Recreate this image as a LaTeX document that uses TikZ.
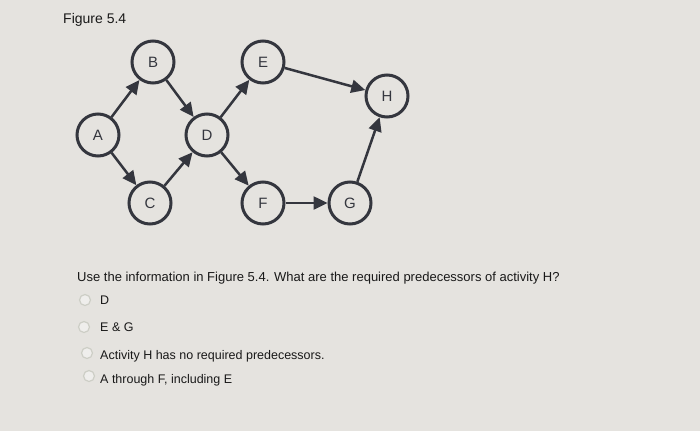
\documentclass[tikz,border=0pt]{standalone}
\usepackage{fontspec}
\setmainfont{Liberation Sans}
\usetikzlibrary{positioning,arrows.meta}
\definecolor{paper}{RGB}{229,227,223}
\definecolor{ink}{RGB}{52,54,62}
\definecolor{radio}{RGB}{205,206,198}
\tikzstyle{activity} = [draw=ink, line width=3pt, fill=paper, circle,
    minimum size=42pt, inner sep=0pt, text=ink, font=\fontsize{15}{15}\selectfont]
\tikzstyle{link} = [draw=ink, line width=2.5pt, -{Triangle[length=14pt,width=13pt]}]
\tikzstyle{choice} = [draw=radio, fill=paper!60!white, line width=1.2pt, circle, minimum size=11pt, inner sep=0pt]
\tikzstyle{answer} = [anchor=west, inner sep=0pt, text=black!90, font=\fontsize{12.5}{12.5}\selectfont]

\begin{document}
\begin{tikzpicture}[x=1pt, y=-1pt, on grid]
	  \fill [paper] (0,0) rectangle (700,431);
	  \useasboundingbox (0,0) rectangle (700,431);
	  \node [anchor=west, inner sep=0pt, text=black!90, font=\fontsize{14}{14}\selectfont] (title) at (63,20) {Figure 5.4};
	  % network
	  \node [activity] (A) at (98,135) {A};
	  \node [activity, above right=73pt and 55pt of A] (B) {B};
	  \node [activity, below right=68pt and 52pt of A] (C) {C};
	  \node [activity, right=109pt of A] (D) {D};
	  \node [activity, above right=73pt and 56pt of D] (E) {E};
	  \node [activity, below right=68pt and 56pt of D] (F) {F};
	  \node [activity, right=87pt of F] (G) {G};
	  \node [activity, above right=107pt and 37pt of G] (H) {H};
	  \draw [link] (A) -- (B);
	  \draw [link] (A) -- (C);
	  \draw [link] (B) -- (D);
	  \draw [link] (C) -- (D);
	  \draw [link] (D) -- (E);
	  \draw [link] (D) -- (F);
	  \draw [link] (E) -- (H);
	  \draw [link] (F) -- (G);
	  \draw [link] (G) -- (H);
	  % question
	  \node [answer, font=\fontsize{13}{13}\selectfont] (question) at (77,278) {Use the information in Figure 5.4. What are the required predecessors of activity H?};
	  \node [choice] (r1) at (85,300) {};
	  \node [choice] (r2) at (84,327) {};
	  \node [choice] (r3) at (87,353) {};
	  \node [choice] (r4) at (89,376) {};
	  \node [answer] (a1) at (100,300) {D};
	  \node [answer] (a2) at (100,327) {E \& G};
	  \node [answer] (a3) at (100,356) {Activity H has no required predecessors.};
	  \node [answer] (a4) at (100,380) {A through F, including E};
	\end{tikzpicture}
\end{document}
